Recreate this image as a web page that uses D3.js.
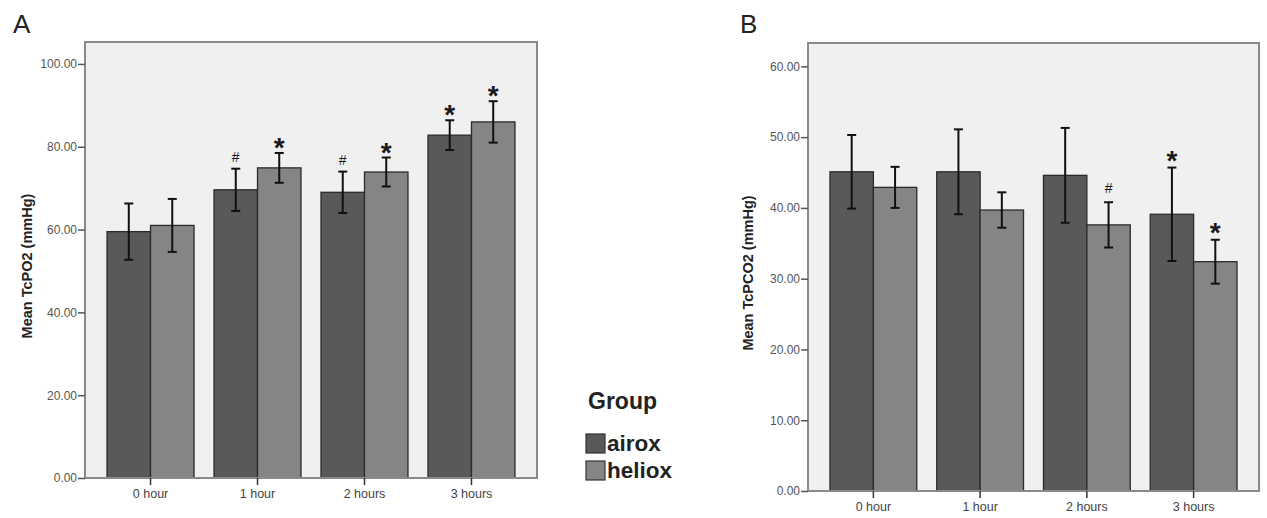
<!DOCTYPE html>
<html>
<head>
<meta charset="utf-8">
<script src="https://cdn.jsdelivr.net/npm/d3@7"></script>
<style>
  body { margin: 0; background: #fff; }
  svg { font-family: "Liberation Sans", Arial, sans-serif; }
</style>
</head>
<body>
<div id="chart"></div>
<script>
// Chart values
var categories = ["0 hour", "1 hour", "2 hours", "3 hours"];
var groups = ["airox", "heliox"];

// Panel A: TcPO2
var po2Airox = [59.5, 69.6, 69.0, 82.8];
var po2AiroxErr = [6.8, 5.1, 5.0, 3.6];
var po2Heliox = [61.0, 74.9, 73.9, 86.0];
var po2HelioxErr = [6.4, 3.6, 3.5, 5.0];
var po2AiroxMarks = ["", "#", "#", "*"];
var po2HelioxMarks = ["", "*", "*", "*"];
var po2Ticks = [0, 20, 40, 60, 80, 100];

// Panel B: TcPCO2
var pco2Airox = [45.1, 45.1, 44.6, 39.1];
var pco2AiroxErr = [5.2, 6.0, 6.7, 6.6];
var pco2Heliox = [42.9, 39.7, 37.6, 32.4];
var pco2HelioxErr = [2.9, 2.5, 3.2, 3.1];
var pco2AiroxMarks = ["", "", "", "*"];
var pco2HelioxMarks = ["", "", "#", "*"];
var pco2Ticks = [0, 10, 20, 30, 40, 50, 60];

var colors = { airox: "#595959", heliox: "#858585" };

var svg = d3.select("#chart").append("svg")
    .attr("width", 1267)
    .attr("height", 518);

function drawPanel(opt) {
    var x0 = d3.scaleBand()
        .domain(categories)
        .range([opt.left, opt.right])
        .paddingInner(0.187)
        .paddingOuter(0.206);

    var x1 = d3.scaleBand()
        .domain(groups)
        .range([0, x0.bandwidth()]);

    var y = d3.scaleLinear()
        .domain([0, opt.yMax])
        .range([opt.bottom, opt.top]);

    var g = svg.append("g");

    // plot background
    g.append("rect")
        .attr("x", opt.left)
        .attr("y", opt.top)
        .attr("width", opt.right - opt.left)
        .attr("height", opt.bottom - opt.top)
        .attr("fill", "#f0f0f0");

    // one entry per bar
    var flat = [];
    categories.forEach(function(c, i) {
        flat.push({ cat: c, group: "airox", v: opt.airox[i], e: opt.airoxErr[i], mark: opt.airoxMarks[i] });
        flat.push({ cat: c, group: "heliox", v: opt.heliox[i], e: opt.helioxErr[i], mark: opt.helioxMarks[i] });
    });

    g.selectAll("rect.bar")
        .data(flat)
        .enter()
        .append("rect")
        .attr("class", "bar")
        .attr("x", d => x0(d.cat) + x1(d.group))
        .attr("y", d => y(d.v))
        .attr("width", x1.bandwidth())
        .attr("height", d => y(0) - y(d.v))
        .attr("fill", d => colors[d.group])
        .attr("stroke", "#2b2b2b")
        .attr("stroke-width", 1.3);

    // error bars
    var cx = d => x0(d.cat) + x1(d.group) + x1.bandwidth() / 2;
    var err = g.selectAll("g.err")
        .data(flat)
        .enter()
        .append("g")
        .attr("class", "err")
        .attr("stroke", "#111")
        .attr("stroke-width", 2);

    err.append("line")
        .attr("x1", cx).attr("x2", cx)
        .attr("y1", d => y(d.v + d.e))
        .attr("y2", d => y(d.v - d.e));
    err.append("line")
        .attr("x1", d => cx(d) - 4.5).attr("x2", d => cx(d) + 4.5)
        .attr("y1", d => y(d.v + d.e)).attr("y2", d => y(d.v + d.e));
    err.append("line")
        .attr("x1", d => cx(d) - 4.5).attr("x2", d => cx(d) + 4.5)
        .attr("y1", d => y(d.v - d.e)).attr("y2", d => y(d.v - d.e));

    // significance marks
    g.selectAll("text.mark")
        .data(flat.filter(d => d.mark !== ""))
        .enter()
        .append("text")
        .attr("class", "mark")
        .attr("x", cx)
        .attr("y", d => d.mark === "*" ? y(d.v + d.e) - opt.markGap + 16 : y(d.v + d.e) - opt.markGap + 5)
        .attr("text-anchor", "middle")
        .attr("font-size", d => d.mark === "*" ? "28px" : "14px")
        .attr("font-weight", d => d.mark === "*" ? "bold" : "normal")
        .attr("fill", "#1a1a1a")
        .text(d => d.mark);

    // frame
    g.append("rect")
        .attr("x", opt.left)
        .attr("y", opt.top)
        .attr("width", opt.right - opt.left)
        .attr("height", opt.bottom - opt.top)
        .attr("fill", "none")
        .attr("stroke", "#8a8a8a")
        .attr("stroke-width", 2);

    // Y axis
    var yAxis = g.append("g")
        .attr("transform", "translate(" + opt.left + ",0)")
        .call(d3.axisLeft(y).tickValues(opt.ticks).tickFormat(d3.format(".2f")).tickSize(7).tickPadding(1));
    yAxis.select(".domain").remove();
    yAxis.selectAll("line").attr("stroke", "#555").attr("stroke-width", 1.5);
    yAxis.selectAll("text")
        .attr("fill", "#555")
        .style("font-size", "12px")
        .style("font-family", "'Liberation Sans', Arial, sans-serif");

    // X axis
    var xAxis = g.append("g")
        .attr("transform", "translate(0," + opt.bottom + ")")
        .call(d3.axisBottom(x0).tickSize(7).tickPadding(4));
    xAxis.select(".domain").remove();
    xAxis.selectAll("line").attr("stroke", "#333").attr("stroke-width", 1.5);
    xAxis.selectAll("text")
        .attr("fill", "#444")
        .style("font-size", "12.5px")
        .style("font-family", "'Liberation Sans', Arial, sans-serif");

    // Y label
    g.append("text")
        .attr("transform", "rotate(-90)")
        .attr("x", -(opt.top + opt.bottom) / 2 - 6)
        .attr("y", opt.labelX)
        .attr("text-anchor", "middle")
        .attr("font-size", "14.5px")
        .attr("font-weight", "bold")
        .attr("fill", "#222")
        .text(opt.yLabel);

    // panel letter
    g.append("text")
        .attr("x", opt.letterX)
        .attr("y", 33)
        .attr("font-size", "26px")
        .attr("fill", "#222")
        .text(opt.letter);
}

drawPanel({
    left: 85, right: 537, top: 42, bottom: 478, yMax: 105.3,
    airox: po2Airox, airoxErr: po2AiroxErr, airoxMarks: po2AiroxMarks,
    heliox: po2Heliox, helioxErr: po2HelioxErr, helioxMarks: po2HelioxMarks,
    ticks: po2Ticks, yLabel: "Mean TcPO2 (mmHg)", labelX: 32,
    letter: "A", letterX: 13, markGap: 12
});

drawPanel({
    left: 808, right: 1259, top: 43, bottom: 491, yMax: 63.3,
    airox: pco2Airox, airoxErr: pco2AiroxErr, airoxMarks: pco2AiroxMarks,
    heliox: pco2Heliox, helioxErr: pco2HelioxErr, helioxMarks: pco2HelioxMarks,
    ticks: pco2Ticks, yLabel: "Mean TcPCO2 (mmHg)", labelX: 753,
    letter: "B", letterX: 740, markGap: 14
});

// Legend
var legend = svg.append("g")
    .attr("transform", "translate(586,409)");

legend.append("text")
    .attr("x", 2)
    .attr("y", 0)
    .attr("font-size", "23px")
    .attr("font-weight", "bold")
    .attr("fill", "#222")
    .text("Group");

groups.forEach(function(gr, i) {
    legend.append("rect")
        .attr("x", 0)
        .attr("y", 25 + i * 27)
        .attr("width", 19)
        .attr("height", 19)
        .attr("fill", colors[gr])
        .attr("stroke", "#333")
        .attr("stroke-width", 1.2);
    legend.append("text")
        .attr("x", 21)
        .attr("y", 42 + i * 27)
        .attr("font-size", "22.5px")
        .attr("font-weight", "bold")
        .attr("fill", "#222")
        .text(gr);
});
</script>
</body>
</html>
